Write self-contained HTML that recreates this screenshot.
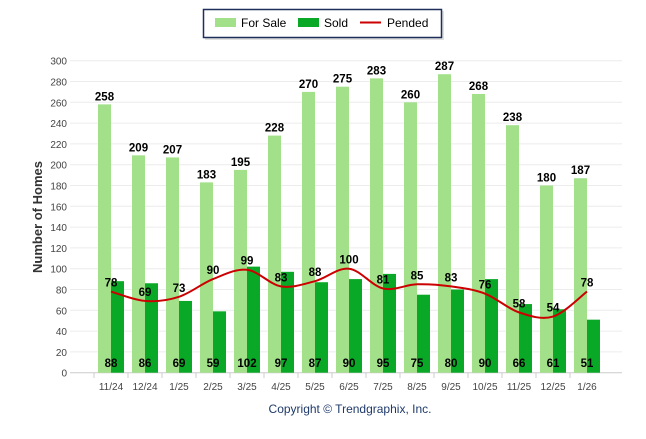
<!DOCTYPE html>
<html><head><meta charset="utf-8"><style>
body{margin:0;background:#fff;width:646px;height:434px;overflow:hidden;font-family:"Liberation Sans",Arial,sans-serif}
</style></head><body>
<svg width="646" height="434" id="c" font-family="Liberation Sans, Arial, sans-serif">
<g>
<rect x="205" y="11" width="239" height="29" fill="#ccc" opacity="0.6"/>
<rect x="203.5" y="9.5" width="238" height="28" fill="#fff" stroke="#1f2f5a" stroke-width="1.5"/>
<rect x="215" y="18" width="21" height="9" fill="#a2e08a"/>
<text x="241" y="27" font-size="12" fill="#000">For Sale</text>
<rect x="298" y="18" width="21" height="9" fill="#0aa827"/>
<text x="324" y="27" font-size="12" fill="#000">Sold</text>
<line x1="360" y1="22.5" x2="381" y2="22.5" stroke="#cc0000" stroke-width="2"/>
<text x="387" y="27" font-size="12" fill="#000">Pended</text>
</g>
<text transform="translate(42,217) rotate(-90)" text-anchor="middle" font-size="13" font-weight="bold" fill="#333">Number of Homes</text>
<text x="350" y="413" text-anchor="middle" font-size="12" fill="#1f3a6a">Copyright © Trendgraphix, Inc.</text>
<g id="grid"></g><g id="bars"></g><g id="line"></g><g id="labels"></g>
</svg>
<script>
const categories=["11/24","12/24","1/25","2/25","3/25","4/25","5/25","6/25","7/25","8/25","9/25","10/25","11/25","12/25","1/26"];
const forSale=[258,209,207,183,195,228,270,275,283,260,287,268,238,180,187];
const sold=[88,86,69,59,102,97,87,90,95,75,80,90,66,61,51];
const pended=[78,69,73,90,99,83,88,100,81,85,83,76,58,54,78];
const yTicks=[0,20,40,60,80,100,120,140,160,180,200,220,240,260,280,300];
const NS="http://www.w3.org/2000/svg";
const y=v=>372.7-v*(312/300);
const xc=i=>111+34*i;
function mk(t,a,p){const e=document.createElementNS(NS,t);for(const k in a)e.setAttribute(k,a[k]);document.getElementById(p).appendChild(e);return e;}
yTicks.forEach(v=>{
 const l=mk("line",{x1:70,x2:622,y1:y(v),y2:y(v),stroke:v===0?"#ccc":"#ececec","stroke-width":1},"grid");
 
 
 const t=mk("text",{x:67,y:y(v)+4,"text-anchor":"end","font-size":10,fill:"#444"},"grid");t.textContent=v;
 
 
});
categories.forEach((c,i)=>{
 const t=mk("text",{x:xc(i),y:390,"text-anchor":"middle","font-size":10,fill:"#444"},"grid");t.textContent=c;
 
 
 const tk=mk("line",{x1:xc(i)-17,x2:xc(i)-17,y1:373,y2:378,stroke:"#ccc"},"grid");
 
 
 const b1=mk("rect",{x:xc(i)-13,y:y(forSale[i]),width:13,height:y(0)-y(forSale[i]),fill:"#a2e08a"},"bars");
 
 
 const b2=mk("rect",{x:xc(i),y:y(sold[i]),width:13,height:y(0)-y(sold[i]),fill:"#0aa827"},"bars");
 
 
 const l1=mk("text",{x:xc(i)-6.5,y:y(forSale[i])-4,"text-anchor":"middle","font-size":11.5,"font-weight":"bold",fill:"#000"},"labels");l1.textContent=forSale[i];
 
 
 const l2=mk("text",{x:xc(i),y:367,"text-anchor":"middle","font-size":11.5,"font-weight":"bold",fill:"#000"},"labels");l2.textContent=sold[i];
 
 
 const l3=mk("text",{x:xc(i),y:y(pended[i])-5,"text-anchor":"middle","font-size":11.5,"font-weight":"bold",fill:"#000"},"labels");l3.textContent=pended[i];
 
 
});
const pts=pended.map((v,i)=>[xc(i),y(v)]);
let d="M"+pts[0][0]+","+pts[0][1];
for(let i=0;i<pts.length-1;i++){
 const p0=pts[Math.max(0,i-1)],p1=pts[i],p2=pts[i+1],p3=pts[Math.min(pts.length-1,i+2)];
 d+=` C${p1[0]+(p2[0]-p0[0])/6},${p1[1]+(p2[1]-p0[1])/6} ${p2[0]-(p3[0]-p1[0])/6},${p2[1]-(p3[1]-p1[1])/6} ${p2[0]},${p2[1]}`;
}
const pl=mk("path",{d:d,fill:"none",stroke:"#cc0000","stroke-width":2},"line");


</script>
</body></html>
